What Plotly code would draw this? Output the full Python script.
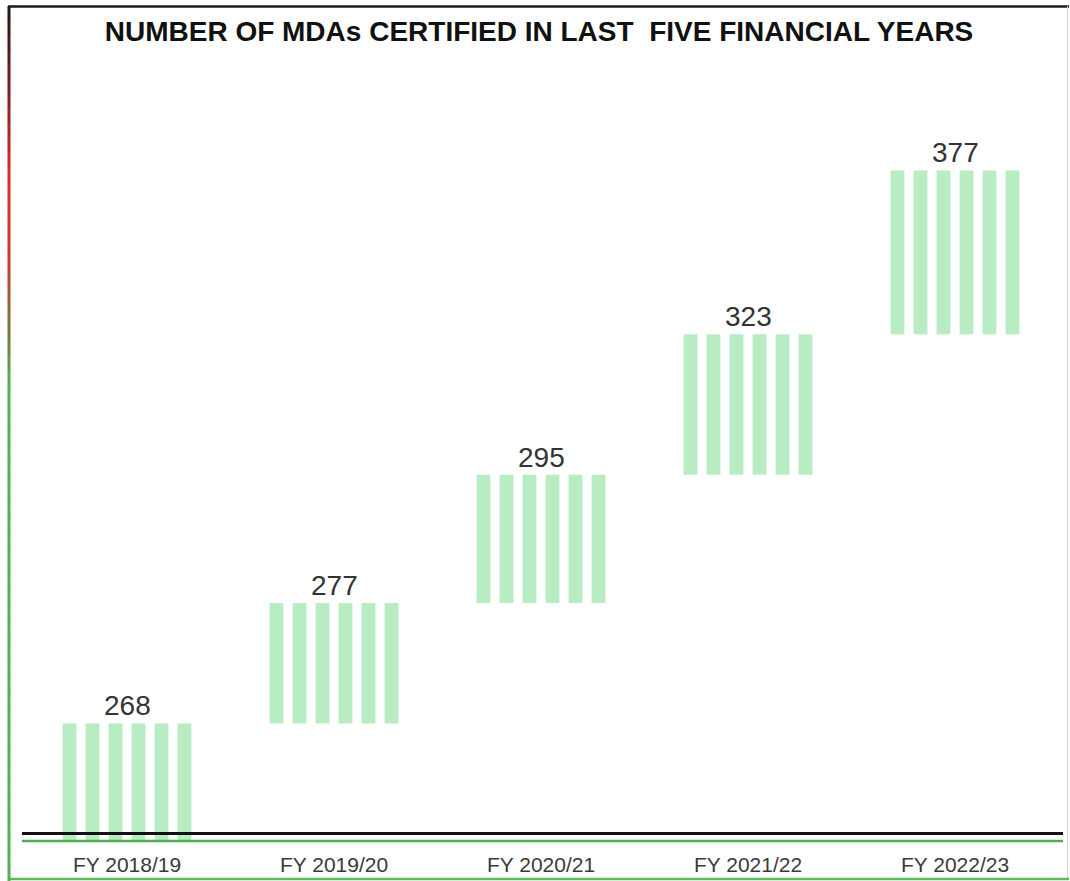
import numpy as np
import plotly.graph_objects as go

categories = ["FY 2018/19", "FY 2019/20", "FY 2020/21", "FY 2021/22", "FY 2022/23"]
values = [268, 277, 295, 323, 377]
title_text = "NUMBER OF MDAs CERTIFIED IN LAST  FIVE FINANCIAL YEARS"

W, H = 1070, 881
tops = np.cumsum(values)
bases = tops - np.array(values)

def px_y(p):
    return 1 - p / H

def px_x(p):
    return p / W

fig = go.Figure()
fig.add_trace(go.Bar(
    x=categories,
    y=values,
    base=bases,
    marker=dict(
        color="white",
        line=dict(width=0),
        pattern=dict(shape="|", size=23, solidity=0.6,
                     fgcolor="#b8ecc2", bgcolor="rgba(0,0,0,0)", fgopacity=1),
    ),
    hoverinfo="skip",
    showlegend=False,
))

for c, t, v in zip(categories, tops, values):
    fig.add_annotation(x=c, y=t, text=str(v), showarrow=False,
                       yanchor="bottom", yshift=0,
                       font=dict(family="Liberation Sans, Arial, sans-serif", size=28, color="#333333"))

shapes = []
# top border
shapes.append(dict(type="line", xref="paper", yref="paper", x0=px_x(8), x1=px_x(1069), y0=px_y(6.5), y1=px_y(6.5),
                   line=dict(color="#1a1a1a", width=2.5)))
# right border
shapes.append(dict(type="line", xref="paper", yref="paper", x0=px_x(1067.5), x1=px_x(1067.5), y0=px_y(6), y1=px_y(880),
                   line=dict(color="#d0d0d0", width=1)))
# bottom border (green)
shapes.append(dict(type="line", xref="paper", yref="paper", x0=px_x(8), x1=px_x(1069), y0=px_y(879), y1=px_y(879),
                   line=dict(color="#5cb85c", width=2.5)))
# left border gradient: black -> red -> green
stops = [(6, (30, 20, 20)), (180, (225, 45, 45)), (260, (200, 60, 45)), (340, (110, 130, 60)), (380, (85, 175, 85)), (881, (85, 175, 85))]
n = 60
ys = np.linspace(6, 881, n + 1)
for i in range(n):
    ym = (ys[i] + ys[i + 1]) / 2
    for j in range(len(stops) - 1):
        if stops[j][0] <= ym <= stops[j + 1][0]:
            f = (ym - stops[j][0]) / (stops[j + 1][0] - stops[j][0])
            col = tuple(int(stops[j][1][k] + f * (stops[j + 1][1][k] - stops[j][1][k])) for k in range(3))
            break
    shapes.append(dict(type="line", xref="paper", yref="paper", x0=px_x(9), x1=px_x(9),
                       y0=px_y(ys[i]), y1=px_y(ys[i + 1] + 0.5),
                       line=dict(color="rgb(%d,%d,%d)" % col, width=3)))
# axis baseline: black then green
shapes.append(dict(type="line", xref="paper", yref="paper", x0=px_x(22), x1=px_x(1063), y0=px_y(833.5), y1=px_y(833.5),
                   line=dict(color="#111111", width=3)))
shapes.append(dict(type="line", xref="paper", yref="paper", x0=px_x(22), x1=px_x(1063), y0=px_y(841), y1=px_y(841),
                   line=dict(color="#4cae4c", width=2.5)))

slot = 207.0
shift = 11.5 / slot
fig.update_layout(
    width=W, height=H,
    margin=dict(l=0, r=0, t=0, b=0),
    paper_bgcolor="white", plot_bgcolor="white",
    bargap=1 - 138 / slot,
    title=dict(text="<b>%s</b>" % title_text, x=px_x(539), xanchor="center", y=px_y(31), yanchor="middle",
               font=dict(family="Liberation Sans, Arial, sans-serif", size=28, color="#111111")),
    xaxis=dict(domain=[px_x(12), px_x(1047)], range=[-0.5 - shift, 4.5 - shift],
               showgrid=False, zeroline=False, showline=False, ticks="", ticklabelstandoff=10,
               tickfont=dict(family="Liberation Sans, Arial, sans-serif", size=21, color="#3a3a3a")),
    yaxis=dict(domain=[px_y(840), px_y(100)], range=[0, 1702], visible=False, showgrid=False, zeroline=False),
    shapes=shapes,
)

fig.write_html("out.html", config={"displayModeBar": False},
               post_script="document.body.style.margin='0';document.body.style.overflow='hidden';")
